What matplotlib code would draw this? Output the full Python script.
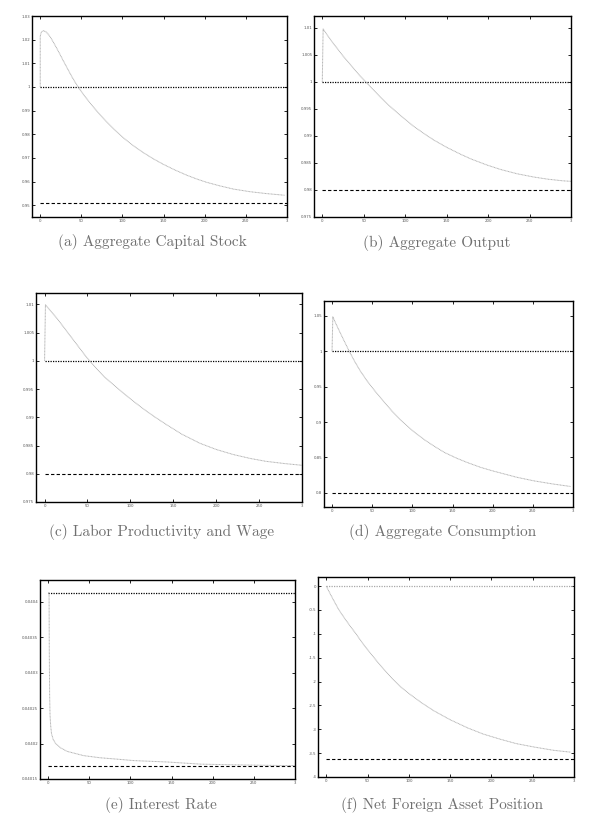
import matplotlib
matplotlib.use('Agg')
import matplotlib.pyplot as plt

# values
t_a = [0, 0, 1, 2, 4, 7, 10, 13, 16, 20, 24, 28, 32, 36, 40, 44, 48, 55, 62, 70,
       80, 90, 101, 113, 125, 137, 149, 163, 178, 190, 202, 218, 235, 255, 275, 297]
k_path = [1.0, 1.0215, 1.0228, 1.0234, 1.0238, 1.0233, 1.0222, 1.0207, 1.0189,
          1.0164, 1.0138, 1.0111, 1.0085, 1.0059, 1.0034, 1.0011, 0.9990, 0.9957,
          0.9926, 0.9893, 0.9855, 0.9820, 0.9785, 0.9752, 0.9723, 0.9697, 0.9674,
          0.9650, 0.9627, 0.9611, 0.9597, 0.9582, 0.9568, 0.9557, 0.9549, 0.9542]
k_old, k_new = 1.0, 0.9509

t_b = [0, 1, 5, 10, 15, 20, 25, 30, 35, 40, 45, 50, 60, 70, 80, 95, 110, 125,
       135, 150, 167, 180, 199, 215, 235, 255, 272, 290, 300]
y_path = [1.0, 1.0098, 1.0089, 1.0078, 1.0068, 1.0058, 1.0048, 1.0039, 1.0030,
          1.0021, 1.0012, 1.0004, 0.9988, 0.9972, 0.9957, 0.9937, 0.9918, 0.9902,
          0.9892, 0.9879, 0.9866, 0.9857, 0.9846, 0.9838, 0.9830, 0.9824, 0.9820,
          0.9817, 0.9816]
y_old, y_new = 1.0, 0.98

t_c = [0, 1, 5, 10, 15, 20, 26, 30, 35, 40, 45, 49, 60, 70, 80, 90, 103, 115,
       128, 142, 160, 181, 200, 220, 240, 258, 280, 300]
w_path = [1.0, 1.0099, 1.0092, 1.0083, 1.0074, 1.0064, 1.0052, 1.0044, 1.0034,
          1.0024, 1.0014, 1.0006, 0.9987, 0.9971, 0.9958, 0.9945, 0.9929, 0.9915,
          0.9901, 0.9887, 0.9870, 0.9854, 0.9843, 0.9834, 0.9827, 0.9822, 0.9818,
          0.9815]
w_old, w_new = 1.0, 0.98

t_d = [0, 1, 5, 10, 15, 21, 28, 35, 44, 54, 64, 75, 85, 100, 115, 127, 140, 155,
       168, 185, 200, 210, 230, 251, 275, 297]
c_path = [1.0, 1.0486, 1.0385, 1.0265, 1.0148, 1.0010, 0.9860, 0.9725, 0.9575,
          0.9430, 0.9295, 0.9150, 0.9033, 0.8880, 0.8750, 0.8660, 0.8570, 0.8490,
          0.8430, 0.8360, 0.8310, 0.8280, 0.8220, 0.8170, 0.8125, 0.8090]
c_old, c_new = 1.0, 0.8

t_e = [0, 1, 1.3, 1.7, 2.2, 3, 4, 6, 9, 12, 15, 23, 33, 43, 63, 84, 104, 145,
       185, 226, 287, 300]
r_path = [0.040413, 0.040413, 0.04033, 0.04027, 0.04024, 0.040225, 0.040214,
          0.040206, 0.040200, 0.040197, 0.040194, 0.040189, 0.040186, 0.040183,
          0.040180, 0.040178, 0.040176, 0.040174, 0.040171, 0.040170, 0.040169,
          0.040169]
r_old, r_new = 0.040413, 0.040168

t_f = [0, 5, 9, 15, 22, 29, 36, 42, 49, 56, 63, 70, 80, 90, 100, 115, 130, 150,
       171, 190, 211, 230, 251, 275, 296]
b_path = [0.0, -0.17, -0.30, -0.49, -0.67, -0.84, -1.0, -1.15, -1.31, -1.46,
          -1.61, -1.75, -1.94, -2.11, -2.25, -2.44, -2.61, -2.80, -2.97, -3.10,
          -3.21, -3.30, -3.37, -3.44, -3.48]
b_old, b_new = 0.0, -3.63

x_ticks = [0, 50, 100, 150, 200, 250, 300]
x_labels = ['0', '50', '100', '150', '200', '250', '3']

ticks_a = [0.95, 0.96, 0.97, 0.98, 0.99, 1.0, 1.01, 1.02, 1.03]
labels_a = ['0.95', '0.96', '0.97', '0.98', '0.99', '1', '1.01', '1.02', '1.03']
ticks_bc = [0.975, 0.98, 0.985, 0.99, 0.995, 1.0, 1.005, 1.01]
labels_bc = ['0.975', '0.98', '0.985', '0.99', '0.995', '1', '1.005', '1.01']
ticks_d = [0.8, 0.85, 0.9, 0.95, 1.0, 1.05]
labels_d = ['0.8', '0.85', '0.9', '0.95', '1', '1.05']
ticks_e = [0.04015, 0.0402, 0.04025, 0.0403, 0.04035, 0.0404]
labels_e = ['0.04015', '0.0402', '0.04025', '0.0403', '0.04035', '0.0404']
ticks_f = [-4, -3.5, -3, -2.5, -2, -1.5, -1, -0.5, 0]
labels_f = ['-4', '-3.5', '-3', '-2.5', '-2', '-1.5', '-1', '-0.5', '0']

captions = ['(a) Aggregate Capital Stock', '(b) Aggregate Output',
            '(c) Labor Productivity and Wage', '(d) Aggregate Consumption',
            '(e) Interest Rate', '(f) Net Foreign Asset Position']

W, H = 600, 831
fig = plt.figure(figsize=(6, 8.31), dpi=100)

# (left, right, top, bottom) in pixels, caption centre (x, y)
boxes = [(32, 287, 16, 217), (314, 571, 16, 217),
         (36, 302, 293, 502), (324, 573, 301, 507),
         (40, 295, 580, 779), (318, 574, 577, 777)]
cap_pos = [(152, 242), (437, 243), (162, 532), (443, 532), (161, 805), (442, 805)]

panels = [
    (t_a, k_path, k_old, k_new, ticks_a, labels_a, (0.945, 1.03), 'black'),
    (t_b, y_path, y_old, y_new, ticks_bc, labels_bc, (0.975, 1.0122), 'black'),
    (t_c, w_path, w_old, w_new, ticks_bc, labels_bc, (0.975, 1.012), 'black'),
    (t_d, c_path, c_old, c_new, ticks_d, labels_d, (0.78, 1.071), 'black'),
    (t_e, r_path, r_old, r_new, ticks_e, labels_e, (0.04015, 0.040431), 'black'),
    (t_f, b_path, b_old, b_new, ticks_f, labels_f, (-4, 0.19), '#a8a8a8'),
]

for i, (t, path, old, new, yt, yl, ylim, oldc) in enumerate(panels):
    l, r, tp, b = boxes[i]
    ax = fig.add_axes([l / W, 1 - b / H, (r - l) / W, (b - tp) / H])
    ax.plot([0, 300], [old, old], color=oldc, lw=0.9, linestyle=(0, (1, 1)))
    ax.plot([0, 300], [new, new], color='black', lw=0.8, linestyle=(0, (3, 2)))
    ax.plot(t, path, color='#b0b0b0', lw=0.7, linestyle=(0, (1, 0.5)))
    ax.set_xlim(-10, 300)
    ax.set_ylim(*ylim)
    ax.set_xticks(x_ticks)
    ax.set_xticklabels(x_labels)
    ax.set_yticks(yt)
    ax.set_yticklabels(yl)
    ax.tick_params(direction='in', length=2.2, width=0.6, labelsize=2.8,
                   pad=1.2, top=True, right=True, labelcolor='#555555')
    for s in ax.spines.values():
        s.set_linewidth(1.0)
    cx, cy = cap_pos[i]
    fig.text(cx / W, 1 - cy / H, captions[i], ha='center', va='center',
             fontfamily='cmr10', fontsize=11, color='#707070')

fig.savefig('out.png', dpi=100)
